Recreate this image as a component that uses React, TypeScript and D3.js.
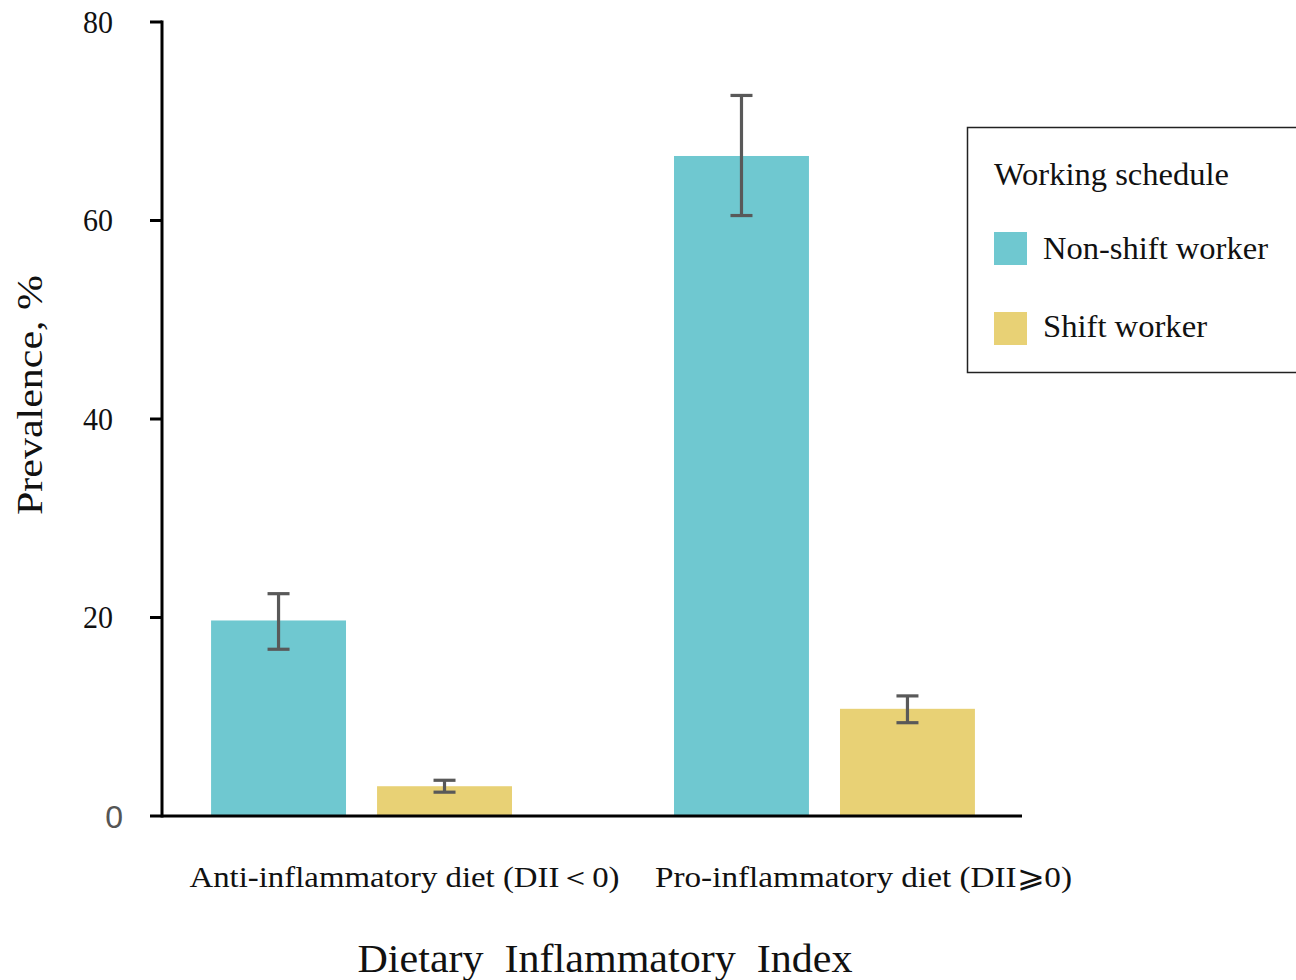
import React from "react";
import * as d3 from "d3";

const categories = ["Anti-inflammatory diet (DII\uFF1C0)", "Pro-inflammatory diet (DII\u2A7E0)"];
const categoryLabelWidths = [430, 417];
const seriesNames = ["Non-shift worker", "Shift worker"];
const seriesLabelWidths = [225, 164];
const seriesColors = ["#6FC8D0", "#E8D175"];
const nonShiftValues = [19.7, 66.5];
const nonShiftLow = [16.8, 60.5];
const nonShiftHigh = [22.4, 72.6];
const shiftValues = [3.0, 10.8];
const shiftLow = [2.4, 9.4];
const shiftHigh = [3.6, 12.1];
const yTicks = [0, 20, 40, 60, 80];

const W = 1296, H = 980;
const SERIF = "'Liberation Serif', 'Times New Roman', serif";
const LABEL_SHIFT = [43, 39];

export default function App() {
  const y = d3.scaleLinear().domain([0, 80]).range([816, 22]);
  const x0 = d3.scaleBand<string>().domain(categories).range([162, 1024]).paddingInner(0.35).paddingOuter(0.106);
  const x1 = d3.scaleBand<string>().domain(seriesNames).range([0, x0.bandwidth()]).paddingInner(0.187);
  const series = [
    { name: seriesNames[0], color: seriesColors[0], v: nonShiftValues, lo: nonShiftLow, hi: nonShiftHigh },
    { name: seriesNames[1], color: seriesColors[1], v: shiftValues, lo: shiftLow, hi: shiftHigh },
  ];
  const capW = 22;
  return (
    <svg width={W} height={H} style={{ position: "absolute", left: 0, top: 0, background: "#fff" }}>
      {series.map((s) =>
        categories.map((c, i) => {
          const bx = (x0(c) as number) + (x1(s.name) as number);
          return (
            <rect key={s.name + c} x={bx} y={y(s.v[i])} width={x1.bandwidth()} height={y(0) - y(s.v[i])} fill={s.color} />
          );
        })
      )}
      {series.map((s) =>
        categories.map((c, i) => {
          const cx = (x0(c) as number) + (x1(s.name) as number) + x1.bandwidth() / 2;
          return (
            <g key={"e" + s.name + c} stroke="#595959" strokeWidth={3.2} fill="none">
              <line x1={cx} x2={cx} y1={y(s.hi[i])} y2={y(s.lo[i])} />
              <line x1={cx - capW / 2} x2={cx + capW / 2} y1={y(s.hi[i])} y2={y(s.hi[i])} />
              <line x1={cx - capW / 2} x2={cx + capW / 2} y1={y(s.lo[i])} y2={y(s.lo[i])} />
            </g>
          );
        })
      )}
      <line x1={162} x2={162} y1={y(80) - 1.5} y2={y(0) + 1.5} stroke="#000" strokeWidth={3} />
      <line x1={150} x2={1022} y1={y(0)} y2={y(0)} stroke="#000" strokeWidth={3} />
      {yTicks.filter((t) => t > 0).map((t) => (
        <g key={t}>
          <line x1={150} x2={162} y1={y(t)} y2={y(t)} stroke="#000" strokeWidth={3} />
          <text x={113} y={y(t)} dy="0.35em" textAnchor="end" fontFamily={SERIF} fontSize={31} fill="#111" textLength={30} lengthAdjust="spacingAndGlyphs">{t}</text>
        </g>
      ))}
      <text x={123} y={y(0)} dy="0.36em" textAnchor="end" fontFamily="'Liberation Sans', Arial, sans-serif" fontSize={32} fill="#555">0</text>
      <text transform={`translate(42,${395}) rotate(-90)`} textAnchor="middle" fontFamily={SERIF} fontSize={36} fill="#111" textLength={240} lengthAdjust="spacingAndGlyphs">Prevalence, %</text>
      {categories.map((c, i) => (
        <text key={c} x={(x0(c) as number) + x0.bandwidth() / 2 + LABEL_SHIFT[i]} y={887} textAnchor="middle" fontFamily={SERIF} fontSize={30} fill="#111" textLength={categoryLabelWidths[i]} lengthAdjust="spacingAndGlyphs">{c}</text>
      ))}
      <text x={605} y={972} textAnchor="middle" fontFamily={SERIF} fontSize={40} fill="#111" style={{ whiteSpace: "pre" }} textLength={495} lengthAdjust="spacingAndGlyphs">{"Dietary  Inflammatory  Index"}</text>
      <rect x={967.5} y={127.5} width={340} height={245} fill="#fff" stroke="#222" strokeWidth={1.5} />
      <text x={994} y={185} fontFamily={SERIF} fontSize={32} fill="#111" textLength={235} lengthAdjust="spacingAndGlyphs">Working schedule</text>
      {series.map((s, i) => (
        <g key={"l" + s.name}>
          <rect x={994} y={232 + i * 80} width={33} height={33} fill={s.color} />
          <text x={1043} y={259 + i * 78} fontFamily={SERIF} fontSize={32} fill="#111" textLength={seriesLabelWidths[i]} lengthAdjust="spacingAndGlyphs">{s.name}</text>
        </g>
      ))}
    </svg>
  );
}
